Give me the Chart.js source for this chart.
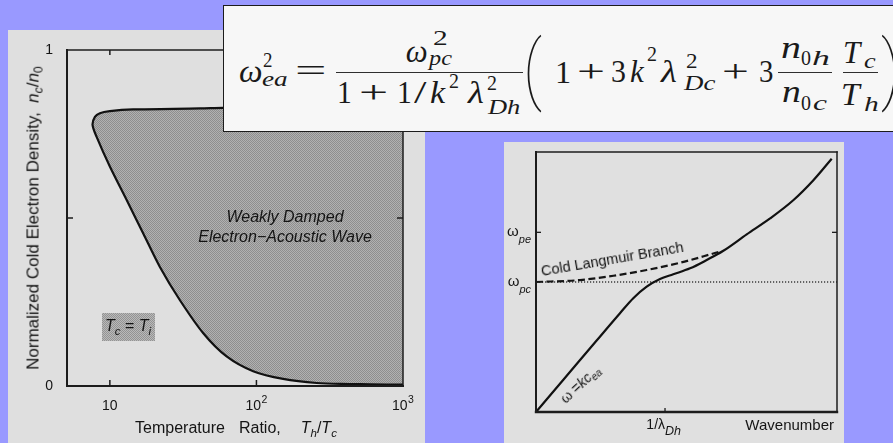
<!DOCTYPE html>
<html>
<head>
<meta charset="utf-8">
<script src="https://cdn.jsdelivr.net/npm/chart.js@4.4.1/dist/chart.umd.min.js"></script>
<style>
  html, body { margin: 0; padding: 0; width: 893px; height: 443px; overflow: hidden; background: #9999ff; }
  .panel { position: absolute; background: #dfdfdf; }
  .panel canvas { position: absolute; left: 0; top: 0; }
  .lbl { position: absolute; white-space: nowrap; line-height: 1; color: #141414;
         font-family: "Liberation Sans", Arial, Helvetica, sans-serif; }
  .lbl sub { font-size: 0.72em; vertical-align: -0.32em; line-height: 0; }
  #eqbox { position: absolute; left: 223px; top: 5px; width: 700px; height: 127px; box-sizing: border-box;
           background: #f7f7f7; border: 1.7px solid #1c1c1c; }
  .eq { position: absolute; white-space: nowrap; color: #1a1a1a; transform-origin: 0 0; }
  .bar { position: absolute; height: 1.4px; background: #2e2e2e; }
  #tcti { position: absolute; left: 102px; top: 313px; width: 53px; height: 28px;
          background: repeating-conic-gradient(#939393 0 25%, #b9b9b9 0 50%) 0 0 / 2px 2px; }
</style>
</head>
<body>
<div class="panel" style="left:8px;top:30px;width:417px;height:413px"><canvas id="cL" width="417" height="413"></canvas></div>
<div class="panel" style="left:504px;top:142px;width:340px;height:301px;background:#e0e0e0"><canvas id="cR" width="340" height="301"></canvas></div>

<!-- left figure annotations -->
<div class="lbl" style="left:33px;top:218px;font-size:17px;transform:translate(-50%,-50%) rotate(-90deg)">Normalized Cold Electron Density,&nbsp;&nbsp;<i>n</i><sub><i>c</i></sub>/<i>n</i><sub>0</sub></div>
<div class="lbl" style="left:236px;top:428px;font-size:16px;transform:translate(-50%,-50%)">Temperature<span style="margin-left:14px">Ratio,</span><span style="margin-left:20px"><i>T</i><sub><i>h</i></sub>/<i>T</i><sub><i>c</i></sub></span></div>
<div class="lbl" style="left:285px;top:216.7px;font-size:16px;font-style:italic;transform:translate(-50%,-50%)">Weakly Damped</div>
<div class="lbl" style="left:285px;top:236.7px;font-size:16px;font-style:italic;transform:translate(-50%,-50%)">Electron−Acoustic Wave</div>
<div id="tcti"></div>
<div class="lbl" style="left:128px;top:326px;font-size:16px;transform:translate(-50%,-50%)"><i>T</i><sub><i>c</i></sub> = <i>T</i><sub><i>i</i></sub></div>

<!-- right figure annotations -->
<div class="lbl" style="left:542px;top:263.7px;font-size:14.5px;transform-origin:0 12.3px;transform:rotate(-9.7deg)">Cold Langmuir Branch</div>
<div class="lbl" style="left:580px;top:384px;font-size:14px;transform:translate(-50%,-50%) rotate(-43deg)">ω =<i>kc</i><sub><i>ea</i></sub></div>

<div id="eqbox"></div>

<script>
// ---- Weakly damped electron-acoustic region (T_h/T_c vs n_c/n_0) ----
// boundary traced from the lower right, up the left edge, then along the top
const tempRatio   = [1000, 600, 434, 258, 152, 95, 62.6, 43.4, 30.0, 21.9, 16.9, 13.0, 10.0, 8.11, 7.62, 7.91, 8.55, 10, 14.4, 41.1, 59, 200, 1000];
const coldDensity = [0.004, 0.005, 0.006, 0.009, 0.021, 0.044, 0.088, 0.157, 0.256, 0.355, 0.454, 0.554, 0.653, 0.742, 0.777, 0.801, 0.812, 0.818, 0.823, 0.826, 0.828, 0.830, 0.832];
const xTickValues = [10, 100, 1000];
const xTickBase   = ['10', '10', '10'];
const xTickExp    = ['', '2', '3'];
const yTickValues = [0, 0.5, 1];
const yTickLabels = ['0', '', '1'];

// ---- Electron-acoustic dispersion (k in units of 1/λ_Dh, ω in units of ω_pc) ----
const waveK     = [0, 0.212, 0.470, 0.651, 0.754, 0.858, 0.961, 1.064, 1.194, 1.323, 1.452, 1.633, 1.814, 1.994, 2.150, 2.292];
const waveOmega = [0, 0.248, 0.550, 0.760, 0.875, 0.964, 1.023, 1.059, 1.105, 1.169, 1.240, 1.366, 1.489, 1.629, 1.783, 1.948];
const langmuirK     = [0, 0.341, 0.600, 0.858, 1.116, 1.300, 1.430];
const langmuirOmega = [1.0, 1.015, 1.048, 1.092, 1.148, 1.198, 1.236];
const freqValues = [1.382, 1.0];
const freqBase   = ['ω', 'ω'];
const freqSub    = ['pe', 'pc'];
const kValues    = [1];
const kBase      = ['1/λ'];
const kSub       = ['Dh'];
const kMax = 2.333, omegaMax = 2.0;

Chart.defaults.font.family = '"Liberation Sans", Arial, Helvetica, sans-serif';

function halftone(dark, light) {
  const c = document.createElement('canvas');
  c.width = c.height = 2;
  const g = c.getContext('2d');
  g.fillStyle = light; g.fillRect(0, 0, 2, 2);
  g.fillStyle = dark; g.fillRect(0, 0, 1, 1); g.fillRect(1, 1, 1, 1);
  return g.createPattern(c, 'repeat');
}

function seg(ctx, x1, y1, x2, y2, w) {
  ctx.lineWidth = w;
  ctx.beginPath(); ctx.moveTo(x1, y1); ctx.lineTo(x2, y2); ctx.stroke();
}

const frameLeft = {
  id: 'frameLeft',
  afterDatasetsDraw(chart) {
    const { ctx, chartArea: a, scales: { x, y } } = chart;
    ctx.save();
    ctx.strokeStyle = '#1c1c1c';
    ctx.lineCap = 'square';
    seg(ctx, a.left, a.top, a.right, a.top, 1.5);
    seg(ctx, a.right, a.top, a.right, a.bottom, 1.5);
    seg(ctx, a.left, a.top, a.left, a.bottom, 2);
    seg(ctx, a.left, a.bottom, a.right, a.bottom, 2);
    ctx.lineCap = 'butt';
    ctx.fillStyle = '#141414';
    ctx.textBaseline = 'alphabetic';
    ctx.textAlign = 'left';
    xTickValues.forEach((v, i) => {
      const px = x.getPixelForValue(v);
      if (px < a.right - 3) {
        seg(ctx, px, a.bottom, px, a.bottom - 6, 1.5);
        seg(ctx, px, a.top, px, a.top + 5, 1.5);
      }
      // decade label with raised exponent
      ctx.font = '14px "Liberation Sans"';
      const wb = ctx.measureText(xTickBase[i]).width;
      ctx.font = '10.5px "Liberation Sans"';
      const we = xTickExp[i] ? ctx.measureText(xTickExp[i]).width + 0.5 : 0;
      const x0 = px - (wb + we) / 2;
      ctx.font = '14px "Liberation Sans"';
      ctx.fillText(xTickBase[i], x0, a.bottom + 24);
      if (xTickExp[i]) {
        ctx.font = '10.5px "Liberation Sans"';
        ctx.fillText(xTickExp[i], x0 + wb + 0.5, a.bottom + 16.5);
      }
    });
    yTickValues.forEach(v => {
      const py = y.getPixelForValue(v);
      if (py > a.top + 3 && py < a.bottom - 3) {
        seg(ctx, a.left, py, a.left + 6, py, 1.5);
        seg(ctx, a.right, py, a.right - 6, py, 1.5);
      }
    });
    ctx.restore();
  }
};

new Chart(document.getElementById('cL'), {
  type: 'line',
  data: {
    datasets: [{
      data: tempRatio.map((t, i) => ({ x: t, y: coldDensity[i] })),
      fill: 'shape',
      backgroundColor: halftone('#8e8e8e', '#b1b1b1'),
      borderColor: '#111',
      borderWidth: 2.2,
      pointRadius: 0,
      tension: 0.3
    }]
  },
  options: {
    responsive: false,
    animation: false,
    events: [],
    layout: { padding: { left: 0, top: 20, right: 22, bottom: 0 } },
    plugins: { legend: { display: false }, tooltip: { enabled: false } },
    scales: {
      x: {
        type: 'logarithmic', min: 5.1, max: 1000,
        afterBuildTicks: s => { s.ticks = xTickValues.map(v => ({ value: v })); },
        afterFit: s => { s.height = 57; },
        grid: { display: false }, border: { display: false },
        ticks: { display: false }
      },
      y: {
        min: 0, max: 1,
        afterBuildTicks: s => { s.ticks = yTickValues.map(v => ({ value: v })); },
        afterFit: s => { s.width = 59; },
        grid: { display: false }, border: { display: false },
        ticks: { callback: (v, i) => yTickLabels[i], font: { size: 14 }, color: '#141414', padding: 6 }
      }
    }
  },
  plugins: [frameLeft]
});

function subLabel(ctx, base, sub, x, y, align, baseFont, subFont, dy) {
  ctx.font = baseFont;
  const wb = ctx.measureText(base).width;
  ctx.font = subFont;
  const ws = ctx.measureText(sub).width;
  let x0 = x;
  if (align === 'right') x0 = x - wb - ws;
  if (align === 'split') x0 = x - wb;
  ctx.textAlign = 'left';
  ctx.textBaseline = 'middle';
  ctx.font = baseFont;
  ctx.fillText(base, x0, y);
  ctx.font = subFont;
  ctx.fillText(sub, x0 + wb, y + dy);
}

const decorRight = {
  id: 'decorRight',
  afterDatasetsDraw(chart) {
    const { ctx, chartArea: a, scales: { x, y } } = chart;
    ctx.save();
    ctx.strokeStyle = '#1c1c1c';
    ctx.lineCap = 'square';
    seg(ctx, a.left, a.top, a.right, a.top, 1.5);
    seg(ctx, a.right, a.top, a.right, a.bottom, 1.5);
    seg(ctx, a.left, a.top, a.left, a.bottom, 2);
    seg(ctx, a.left, a.bottom, a.right, a.bottom, 2.4);
    ctx.lineCap = 'butt';
    const pe = y.getPixelForValue(freqValues[0]);
    seg(ctx, a.left, pe, a.left + 5, pe, 1.3);
    seg(ctx, a.right, pe, a.right - 5, pe, 1.3);
    kValues.forEach(v => {
      const px = x.getPixelForValue(v);
      seg(ctx, px, a.bottom, px, a.bottom - 4, 1.3);
    });
    ctx.fillStyle = '#151515';
    freqValues.forEach((v, i) => {
      subLabel(ctx, freqBase[i], freqSub[i], a.left - 5, y.getPixelForValue(v), 'right',
               '15px "Liberation Sans"', 'italic 11px "Liberation Sans"', 7.5);
    });
    kValues.forEach((v, i) => {
      subLabel(ctx, kBase[i], kSub[i], x.getPixelForValue(v), a.bottom + 13, 'split',
               '14px "Liberation Sans"', 'italic 12.5px "Liberation Sans"', 6.5);
    });
    ctx.font = '15px "Liberation Sans"';
    ctx.textAlign = 'right';
    ctx.textBaseline = 'middle';
    ctx.fillText('Wavenumber', a.right - 3, a.bottom + 14);
    ctx.restore();
  }
};

new Chart(document.getElementById('cR'), {
  type: 'line',
  data: {
    datasets: [
      { data: waveK.map((k, i) => ({ x: k, y: waveOmega[i] })), borderColor: '#111', borderWidth: 2.2,
        pointRadius: 0, cubicInterpolationMode: 'monotone', fill: false, order: 0 },
      { data: langmuirK.map((k, i) => ({ x: k, y: langmuirOmega[i] })), borderColor: '#151515', borderWidth: 2.2,
        borderDash: [7, 3.5], pointRadius: 0, cubicInterpolationMode: 'monotone', fill: false, order: 1 },
      { data: [{ x: 0, y: freqValues[1] }, { x: kMax, y: freqValues[1] }], borderColor: '#3a3a3a', borderWidth: 1.4,
        borderDash: [1.2, 1.8], pointRadius: 0, fill: false, order: 2 }
    ]
  },
  options: {
    responsive: false,
    animation: false,
    events: [],
    layout: { padding: { left: 0, top: 10, right: 7, bottom: 0 } },
    plugins: { legend: { display: false }, tooltip: { enabled: false } },
    scales: {
      x: { type: 'linear', min: 0, max: kMax, ticks: { display: false }, grid: { display: false },
           border: { display: false }, afterFit: s => { s.height = 31; } },
      y: { type: 'linear', min: 0, max: omegaMax, ticks: { display: false }, grid: { display: false },
           border: { display: false }, afterFit: s => { s.width = 32; } }
    }
  },
  plugins: [decorRight]
});

// ---- dispersion relation set in the white box ----
const serif = '"Liberation Serif", "Times New Roman", serif';
const meas = document.createElement('canvas').getContext('2d');
// each glyph group is fitted to an ink box: x0..x1 horizontally, either on a baseline
// or, for the tall delimiters, between y0 and y1
function glyph(txt, x0, x1, base, fs, italic, y0, y1, family, weight) {
  const font = (italic ? 'italic ' : '') + (weight || 400) + ' ' + fs + 'px ' + (family || serif);
  meas.font = font;
  const m = meas.measureText(txt);
  const ink = m.actualBoundingBoxLeft + m.actualBoundingBoxRight;
  const sx = ink > 0 ? (x1 - x0) / ink : 1;
  const asc = m.fontBoundingBoxAscent, desc = m.fontBoundingBoxDescent;
  const baseOff = (fs - (asc + desc)) / 2 + asc;
  let sy = 1, top = base - baseOff;
  if (y0 !== undefined) {
    sy = (y1 - y0) / (m.actualBoundingBoxAscent + m.actualBoundingBoxDescent);
    top = y0 - sy * (baseOff - m.actualBoundingBoxAscent);
  }
  const el = document.createElement('span');
  el.className = 'eq';
  el.textContent = txt;
  el.style.font = font;
  el.style.lineHeight = fs + 'px';
  el.style.left = (x0 + m.actualBoundingBoxLeft * sx) + 'px';
  el.style.top = top + 'px';
  el.style.transform = 'scale(' + sx.toFixed(3) + ',' + sy.toFixed(3) + ')';
  document.body.appendChild(el);
}
function rule(x0, x1, y) {
  const el = document.createElement('div');
  el.className = 'bar';
  el.style.left = x0 + 'px';
  el.style.width = (x1 - x0) + 'px';
  el.style.top = (y - 0.7) + 'px';
  document.body.appendChild(el);
}
[
  ['ω', 240, 261.5, 81.7, 31, 1], ['2', 262.5, 271.5, 67, 21, 0], ['ea', 262, 287, 86.7, 21, 1],
  ['=', 297, 324, 80.5, 31, 0],
  ['ω', 406.7, 426.7, 61.7, 31, 1], ['2', 433, 447, 45, 21, 0], ['pc', 427, 453, 65.5, 21, 1],
  ['1', 338.5, 350, 103.3, 31, 0], ['+', 361, 386, 102.5, 31, 0], ['1', 398.5, 410, 103.3, 31, 0],
  ['/', 413.5, 426.5, 103.3, 31, 0], ['k', 430, 446.5, 103.3, 31, 1], ['2', 448.5, 458, 88.3, 21, 0],
  ['λ', 466.5, 483, 103.3, 31, 1], ['2', 487, 496.5, 90, 21, 0], ['Dh', 487, 520, 114.5, 21, 1],
  ['1', 557, 569.5, 82.5, 31, 0], ['+', 579, 603, 82, 31, 0], ['3', 611.5, 625, 82, 31, 0],
  ['k', 630, 645, 82, 31, 1], ['2', 647, 656.5, 61.7, 21, 0], ['λ', 660, 676.5, 82, 31, 1],
  ['2', 685.5, 696.5, 68.3, 21, 0], ['Dc', 683, 716.5, 90, 21, 1], ['+', 723.5, 746.5, 82, 31, 0],
  ['3', 760, 773, 82, 31, 0],
  ['n', 782, 800, 58.3, 31, 1], ['0', 801, 810.5, 65, 21, 0], ['h', 812, 829, 65, 21, 1],
  ['n', 783, 800, 101.7, 31, 1], ['0', 801, 810.5, 110, 21, 0], ['c', 813, 828, 110, 21, 1],
  ['T', 845, 863, 63.3, 31, 1], ['c', 864, 876.5, 68, 21, 1],
  ['T', 843.5, 863, 105, 31, 1], ['h', 864, 878, 111.7, 21, 1]
].forEach(g => glyph(...g));
// tall delimiters in a light sans face so the strokes stay thin
glyph('(', 527, 542, 0, 60, 0, 34, 113, 'Roboto, "Liberation Sans", sans-serif', 100);
glyph(')', 881, 896, 0, 60, 0, 34, 113, 'Roboto, "Liberation Sans", sans-serif', 100);
rule(336, 523, 72.7);
rule(778, 832, 72.7);
rule(843, 878, 72.7);
</script>
</body>
</html>
